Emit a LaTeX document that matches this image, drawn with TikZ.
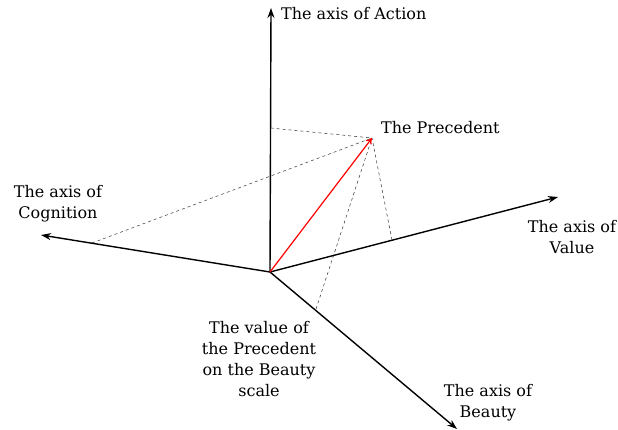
\documentclass[tikz,border=0pt]{standalone}
\usepackage{fontspec}
\setmainfont{DejaVu Serif}
\usetikzlibrary{arrows.meta}
\begin{document}
\begin{tikzpicture}[x=1pt,y=-1pt,
  axisline/.style={line width=1.4pt,-{Stealth[length=10pt,width=7pt]}},
  projline/.style={line width=0.5pt,dash pattern=on 3pt off 3pt,black!80},
  vecline/.style={line width=1.2pt,red,-{To[length=6pt,width=7pt]}},
  lbl/.style={font=\fontsize{16}{20.7}\selectfont,align=center,inner sep=0pt}]
\useasboundingbox (0,0) rectangle (618,429);
% origin and axis ends
\coordinate (O) at (270,272);
\coordinate (Act) at (271,8);
\coordinate (Cog) at (41,235);
\coordinate (Val) at (558,197);
\coordinate (Bea) at (457,429);
% the precedent and its projections
\coordinate (P) at (372,138);
\coordinate (pA) at (270.6,128);
\coordinate (pC) at (92,243);
\coordinate (pV) at (392,240);
\coordinate (pB) at (316,309);
% projections
\draw[projline] (pA) -- (P);
\draw[projline] (pC) -- (P);
\draw[projline] (pV) -- (P);
\draw[projline] (pB) -- (P);
% axes
\draw[axisline] (O) -- (Act);
\draw[axisline] (O) -- (Cog);
\draw[axisline] (O) -- (Val);
\draw[axisline] (O) -- (Bea);
% the precedent vector
\draw[vecline] (O) -- (P);
% labels
\node[lbl,anchor=west] (lAct) at (281,14) {The axis of Action};
\node[lbl,anchor=west] (lP) at (381,128) {The Precedent};
\node[lbl] (lCog) at (58,203.5) {The axis of\\Cognition};
\node[lbl] (lVal) at (572,237) {The axis of\\Value};
\node[lbl] (lBea) at (488,403) {The axis of\\Beauty};
\node[lbl] (lBV) at (259,359) {The value of\\the Precedent\\on the Beauty\\scale};
\end{tikzpicture}
\end{document}
